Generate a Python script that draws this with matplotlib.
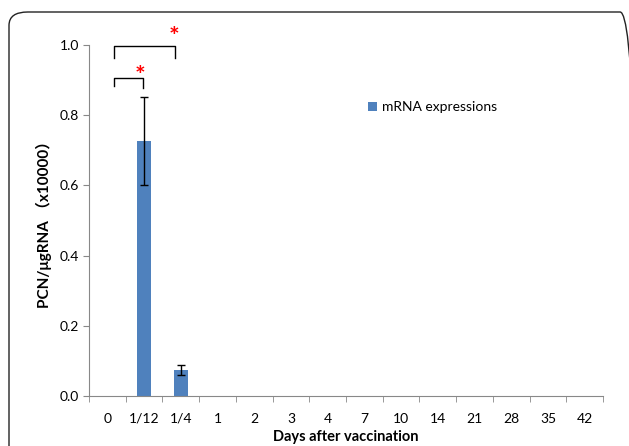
import matplotlib.pyplot as plt
import numpy as np
from matplotlib.patches import FancyBboxPatch

days = ['0', '1/12', '1/4', '1', '2', '3', '4', '7', '10', '14', '21', '28', '35', '42']
mrna = [0, 0.727, 0.073, 0, 0, 0, 0, 0, 0, 0, 0, 0, 0, 0]
mrna_err = [0, 0.126, 0.014, 0, 0, 0, 0, 0, 0, 0, 0, 0, 0, 0]

plt.rcParams['font.family'] = ['Lato', 'Noto Sans CJK SC', 'DejaVu Sans']

fig = plt.figure(figsize=(6.29, 4.46), dpi=100)
ax = fig.add_axes([0.1415, 0.1121, 0.8172, 0.7870])

# rounded frame around the whole chart
frame = FancyBboxPatch((9/629, -0.2), 630/629, 1.2 - 12/446,
                       boxstyle='round,pad=0,rounding_size=0.03',
                       transform=fig.transFigure, fill=False,
                       edgecolor='#222222', linewidth=1.0, clip_on=True)
fig.patches.append(frame)

x = np.arange(len(days))
ax.bar(x, mrna, width=0.39, color='#4F81BD', label='mRNA expressions', zorder=2)
nz = [i for i in x if mrna_err[i] > 0]
ax.errorbar([x[i] for i in nz], [mrna[i] for i in nz], yerr=[mrna_err[i] for i in nz],
            fmt='none', ecolor='black', elinewidth=1.0, capsize=2.8, capthick=1.0, zorder=3)

ax.set_xlim(-0.5, len(days) - 0.5)
ax.set_ylim(0, 1.0)
ax.set_yticks([0, 0.2, 0.4, 0.6, 0.8, 1.0])
ax.set_yticklabels(['0.0', '0.2', '0.4', '0.6', '0.8', '1.0'])
ax.set_xticks(x)
ax.set_xticklabels(days)
ax.set_xticks(np.arange(-0.5, len(days)), minor=True)
ax.tick_params(axis='x', which='major', length=0, pad=12, labelsize=10)
ax.tick_params(axis='x', which='minor', length=4, color='#888888', direction='out')
ax.tick_params(axis='y', length=4, color='#888888', labelsize=10, pad=3)

for s in ['top', 'right']:
    ax.spines[s].set_visible(False)
ax.spines['left'].set_color('#888888')
ax.spines['bottom'].set_color('#888888')

ax.set_ylabel('PCN/μgRNA （x10000）', fontweight='bold', fontsize=11, labelpad=6)
ax.set_xlabel('Days after vaccination', fontweight='bold', fontsize=10.5, labelpad=4)

# significance brackets
ax.plot([0.18, 0.18, 0.97, 0.97], [0.883, 0.906, 0.906, 0.877], color='black', lw=1.0, clip_on=False)
ax.text(0.89, 0.91, '*', color='red', fontsize=18, ha='center', va='center', fontweight='bold', clip_on=False)
ax.plot([0.18, 0.18, 1.84, 1.84], [0.963, 0.997, 0.997, 0.963], color='black', lw=1.0, clip_on=False)
ax.text(1.82, 1.02, '*', color='red', fontsize=18, ha='center', va='center', fontweight='bold', clip_on=False)

ax.legend(loc='upper left', bbox_to_anchor=(0.53, 0.86), frameon=False, fontsize=10,
          handlelength=0.6, handleheight=0.6, handletextpad=0.4, borderpad=0)

fig.savefig('out.png', dpi=100)
